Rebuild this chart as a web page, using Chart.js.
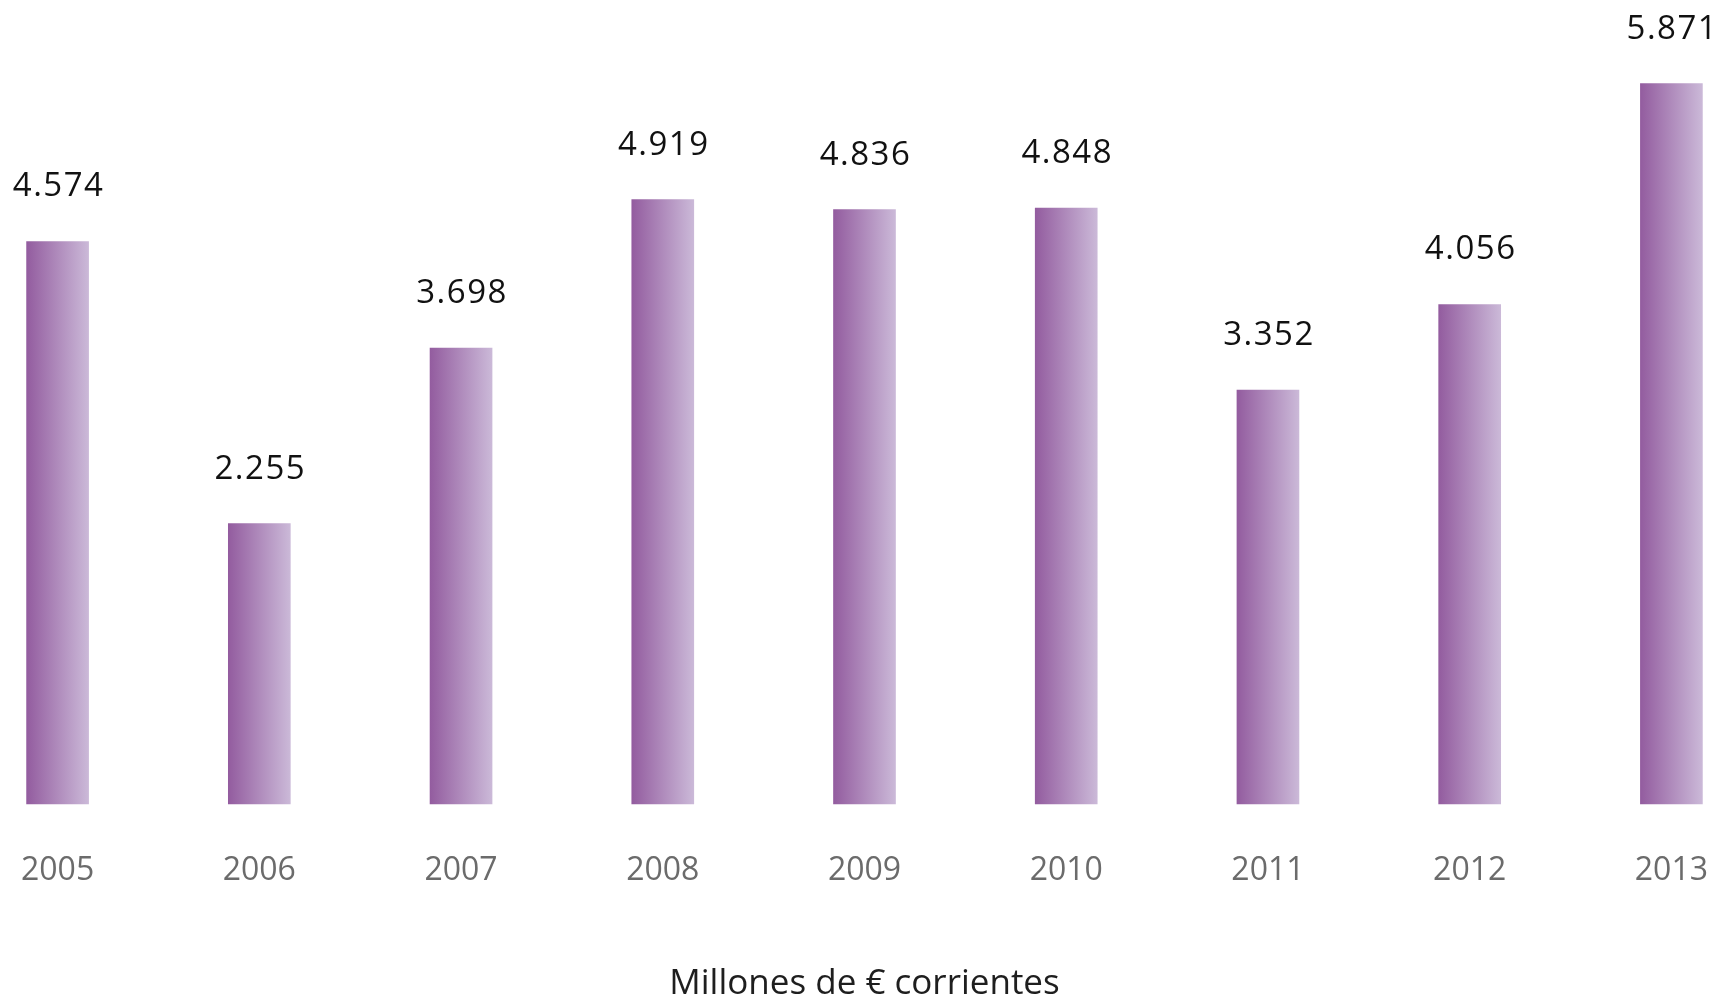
<!DOCTYPE html>
<html lang="es">
<head>
<meta charset="utf-8">
<title>Millones de € corrientes</title>
<script src="https://cdn.jsdelivr.net/npm/chart.js@4.4.1/dist/chart.umd.min.js"></script>
<style>
    html, body { margin: 0; padding: 0; background: #ffffff; }
    #chartWrap { position: relative; width: 1729px; height: 998px; }
</style>
</head>
<body>
<div id="chartWrap">
    <canvas id="inversionChart"></canvas>
</div>
<script>
// Datos: años y valores en millones de euros corrientes
const years = ['2005', '2006', '2007', '2008', '2009', '2010', '2011', '2012', '2013'];
const amounts = [4574, 2255, 3698, 4919, 4836, 4848, 3352, 4056, 5871];
const axisTitle = 'Millones de € corrientes';

const yMin = -50;
const yMax = 6000;

const barColorDark = '#935c9f';
const barColorLight = '#cbb9d8';
const barWidth = 62;

// separador de miles con punto (4574 -> 4.574)
function formatValue(v) {
    return String(v).replace(/\B(?=(\d{3})+(?!\d))/g, '.');
}

// degradado horizontal dentro de cada barra
function barGradient(context) {
    const chart = context.chart;
    if (!chart.chartArea || context.dataIndex === undefined) {
        return barColorDark;
    }
    const x = chart.scales.x.getPixelForValue(context.dataIndex);
    const grad = chart.ctx.createLinearGradient(x - barWidth / 2, 0, x + barWidth / 2, 0);
    grad.addColorStop(0, barColorDark);
    grad.addColorStop(1, barColorLight);
    return grad;
}

// etiquetas con el valor encima de cada barra
const valueLabels = {
    id: 'valueLabels',
    afterDatasetsDraw(chart) {
        const ctx = chart.ctx;
        const meta = chart.getDatasetMeta(0);
        ctx.save();
        ctx.font = '33px "Open Sans", sans-serif';
        ctx.letterSpacing = '1.5px';
        ctx.fillStyle = '#111111';
        ctx.textAlign = 'center';
        ctx.textBaseline = 'alphabetic';
        meta.data.forEach((bar, i) => {
            ctx.fillText(formatValue(amounts[i]), bar.x + 1, bar.y - 45);
        });
        ctx.restore();
    }
};

document.addEventListener('DOMContentLoaded', () => {
    const canvas = document.getElementById('inversionChart');

    new Chart(canvas, {
        type: 'bar',
        data: {
            labels: years,
            datasets: [{
                data: amounts,
                base: yMin,
                backgroundColor: barGradient,
                borderWidth: 0,
                barThickness: barWidth,
                clip: false
            }]
        },
        options: {
            responsive: true,
            maintainAspectRatio: false,
            animation: false,
            layout: {
                // los márgenes laterales salen de media etiqueta + padding de los ticks
                padding: { left: 0, right: 0, top: 68, bottom: 0 }
            },
            scales: {
                x: {
                    offset: false,
                    grid: { display: false, drawTicks: false },
                    border: { display: false },
                    ticks: {
                        color: '#6b6b6b',
                        padding: 21,
                        font: { family: '"Open Sans", sans-serif', size: 32, lineHeight: 2.875 }
                    },
                    title: {
                        display: true,
                        text: axisTitle,
                        color: '#1e1e1e',
                        padding: { top: 32, bottom: 0 },
                        font: { family: '"Open Sans", sans-serif', size: 35, lineHeight: 0.8 }
                    }
                },
                y: {
                    display: false,
                    min: yMin,
                    max: yMax
                }
            },
            plugins: {
                legend: { display: false },
                tooltip: { enabled: false }
            }
        },
        plugins: [valueLabels]
    });
});
</script>
</body>
</html>
